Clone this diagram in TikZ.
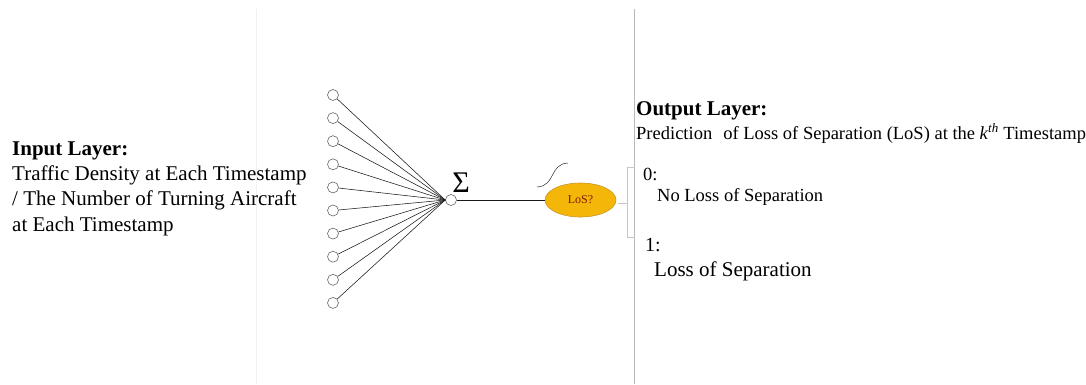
\documentclass[tikz,border=0pt]{standalone}
\usepackage{fontspec}
\setmainfont{Liberation Serif}
\usepackage{tikz}
\usetikzlibrary{positioning,shapes.geometric}

\definecolor{losfill}{RGB}{245,182,10}
\definecolor{losdraw}{RGB}{200,150,40}
\definecolor{lostext}{RGB}{130,25,0}

\begin{document}
\begin{tikzpicture}[
    x=1pt, y=-1pt,
    inner sep=0pt,
    neuron/.style={circle, draw, gray!80!black, fill=white, minimum size=11pt, line width=0.6pt},
    wire/.style={gray!20!black, line width=0.55pt},
    bracketline/.style={gray!45, line width=0.6pt},
    txt/.style={anchor=base west, text=black},
  ]
  \useasboundingbox (0,0) rectangle (1086,384);

  % ---------- page guides ----------
  \draw[gray!12, line width=0.8pt] (256,9) -- (256,384);
  \draw[gray!55, line width=0.8pt] (634,9) -- (634,384);

  % ---------- input layer ----------
  \node[txt, font=\fontsize{21}{25.5}\selectfont\bfseries] (inhead) at (12,155) {Input Layer:};
  % base of a multi-line node = last line
  \node[txt, align=left, font=\fontsize{21}{25.5}\selectfont] (intext) at (12,231)
    {Traffic Density at Each Timestamp\\/ The Number of Turning Aircraft\\at Each Timestamp};

  \foreach \i in {0,...,9}
    \node[neuron] (in\i) at (333,{95+23.1*\i}) {};

  % ---------- summation neuron ----------
  \node[neuron] (sum) at (451,200) {};
  \node[font=\fontsize{30}{30}\selectfont] (sigma) at (461,183) {Σ};
  \foreach \i in {0,...,9}
    \draw[wire] (in\i) -- (sum.west);

  % ---------- output neuron ----------
  \node[ellipse, fill=losfill, draw=losdraw, line width=0.6pt,
        minimum width=71pt, minimum height=34pt,
        font=\fontsize{12}{12}\selectfont, text=lostext] (los) at (580.5,200) {LoS?};
  \draw[wire] (sum) -- (los);
  \draw[gray!30!black, line width=0.5pt]
    (537,187) .. controls (556,186) and (549,164) .. (568,163);

  % ---------- output bracket ----------
  \coordinate (brtop) at (635,167);
  \coordinate (brbot) at (635,237);
  \coordinate (brmid) at (627,203);
  \draw[bracketline] (brtop) -- (627,167) -- (627,237) -- (brbot);
  \draw[bracketline] (618,203) -- (brmid);

  % ---------- output layer ----------
  \node[txt, font=\fontsize{21}{25}\selectfont\bfseries] (outhead) at (636,115) {Output Layer:};
  \node[txt, font=\fontsize{18.5}{22}\selectfont] (outtext) at (636,139)
    {Prediction\hspace{0.35em} of Loss of Separation (LoS) at the \textit{k}\textsuperscript{\textit{th}} Timestamp};
  \node[txt, font=\fontsize{18.5}{22}\selectfont] (zero) at (643,180) {0:};
  \node[txt, font=\fontsize{18.5}{22}\selectfont] (zerotext) at (657,201) {No Loss of Separation};
  \node[txt, font=\fontsize{20}{24}\selectfont] (one) at (645,251) {1:};
  \node[txt, font=\fontsize{21}{25}\selectfont] (onetext) at (654,276) {Loss of Separation};

\end{tikzpicture}
\end{document}
